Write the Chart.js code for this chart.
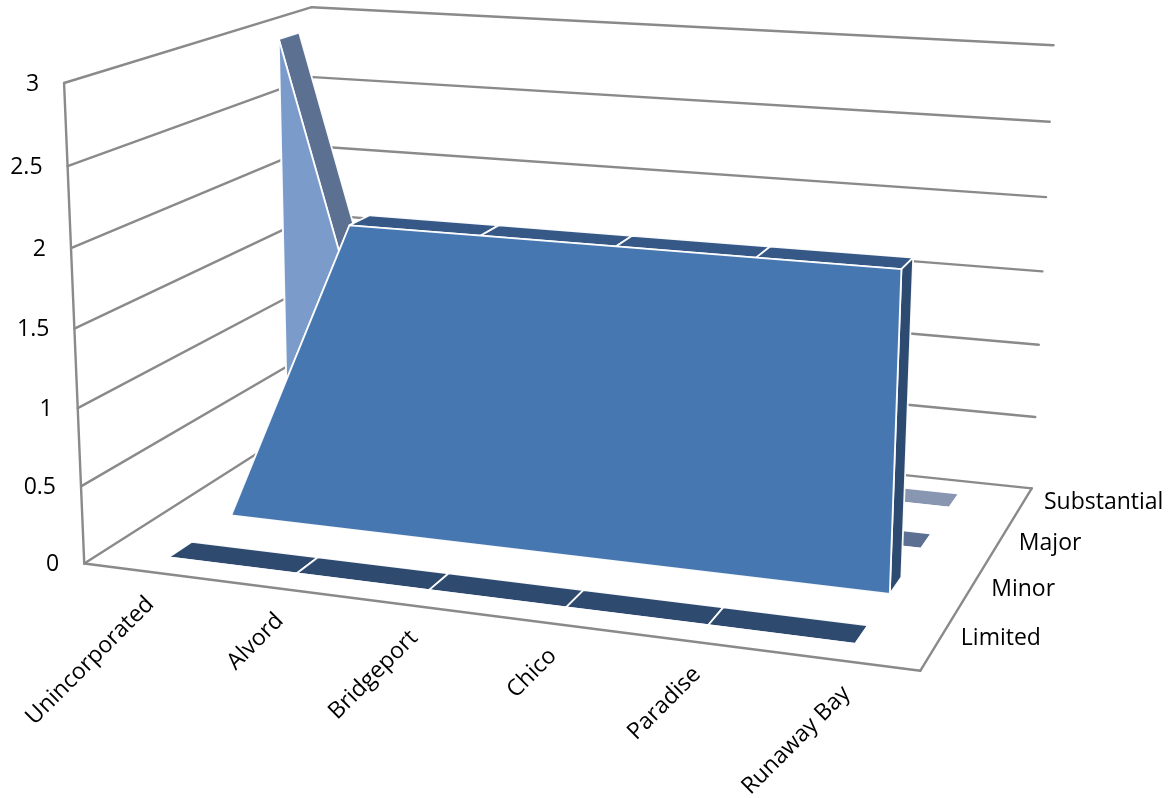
<!DOCTYPE html>
<html>
<head>
<meta charset="utf-8">
<script src="https://cdn.jsdelivr.net/npm/chart.js@4.4.1/dist/chart.umd.min.js"></script>
<style>
  html, body { margin: 0; padding: 0; background: #ffffff; }
  #wrap { width: 1172px; height: 798px; }
</style>
</head>
<body>
<div id="wrap"><canvas id="chart" width="1172" height="798"></canvas></div>
<script>
// ---- data ----
const categories = ['Unincorporated', 'Alvord', 'Bridgeport', 'Chico', 'Paradise', 'Runaway Bay'];
const seriesNames = ['Limited', 'Minor', 'Major', 'Substantial'];
const limitedValues = [0, 0, 0, 0, 0, 0];
const minorValues = [0, 2, 2, 2, 2, 2];
const majorValues = [3, 0, 0, 0, 0, 0];
const substantialValues = [0, 0, 0, 0, 0, 0];
const valueTicks = [0, 0.5, 1, 1.5, 2, 2.5, 3];

// ---- styles ----
const faceColors = [
  { front: '#3b6194', top: '#2e4a6f', side: '#27405f' },   // Limited
  { front: '#4777b0', top: '#355886', side: '#2d4a70' },   // Minor
  { front: '#7b9bcb', top: '#5c7092', side: '#4e6281' },   // Major
  { front: '#a8b9d8', top: '#8896b2', side: '#75839e' }    // Substantial
];
const GRID = '#8a8a8a';
const FONT = '23px "Open Sans", "Liberation Sans", sans-serif';
const DEPTH_SHARE = 0.36;   // share of each depth slot taken by a series

// Plot box (walls + floor) placement on the canvas: unit cube corner -> pixel
const BOX = [
  [[0, 0, 0], [85, 563]],
  [[1, 0, 0], [920, 672]],
  [[1, 0, 1], [1032, 487]],
  [[0, 0, 1], [318, 415]],
  [[0, 1, 0], [62, 83]],
  [[0, 1, 1], [313, 7]],
  [[1, 1, 1], [1053, 46]],
  [[0, 0.5, 0], [76, 328]],
  [[1, 0.5, 1], [1043, 271]]
];

// Perspective camera fitted to the box corners (direct linear transform)
function fitProjection(pairs) {
  const N = 11;
  const M = Array.from({ length: N }, () => new Array(N + 1).fill(0));
  const addRow = (row, rhs) => {
    for (let a = 0; a < N; a++) {
      for (let b = 0; b < N; b++) M[a][b] += row[a] * row[b];
      M[a][N] += row[a] * rhs;
    }
  };
  for (const [[X, Y, Z], [u0, v0]] of pairs) {
    const u = u0 / 1000, v = v0 / 1000;
    addRow([X, Y, Z, 1, 0, 0, 0, 0, -u * X, -u * Y, -u * Z], u);
    addRow([0, 0, 0, 0, X, Y, Z, 1, -v * X, -v * Y, -v * Z], v);
  }
  for (let c = 0; c < N; c++) {
    let piv = c;
    for (let r = c + 1; r < N; r++) if (Math.abs(M[r][c]) > Math.abs(M[piv][c])) piv = r;
    [M[c], M[piv]] = [M[piv], M[c]];
    for (let r = 0; r < N; r++) {
      if (r === c) continue;
      const f = M[r][c] / M[c][c];
      for (let k = c; k <= N; k++) M[r][k] -= f * M[c][k];
    }
  }
  const p = M.map((row, i) => row[N] / row[i]);
  return (X, Y, Z) => {
    const w = p[8] * X + p[9] * Y + p[10] * Z + 1;
    return {
      x: 1000 * (p[0] * X + p[1] * Y + p[2] * Z + p[3]) / w,
      y: 1000 * (p[4] * X + p[5] * Y + p[6] * Z + p[7]) / w
    };
  };
}
const project = fitProjection(BOX);

function poly(ctx, pts, fill, stroke) {
  ctx.beginPath();
  ctx.moveTo(pts[0].x, pts[0].y);
  for (let k = 1; k < pts.length; k++) ctx.lineTo(pts[k].x, pts[k].y);
  ctx.closePath();
  if (fill) { ctx.fillStyle = fill; ctx.fill(); }
  if (stroke) {
    ctx.lineJoin = 'round';
    ctx.strokeStyle = stroke;
    ctx.lineWidth = 1.8;
    ctx.stroke();
  }
}
function line(ctx, a, b) {
  ctx.beginPath();
  ctx.moveTo(a.x, a.y);
  ctx.lineTo(b.x, b.y);
  ctx.stroke();
}

// Draws the 3-D area scene using the chart's own x / y / z scales
const area3d = {
  id: 'area3d',
  beforeDatasetsDraw(chart) {
    const ctx = chart.ctx;
    const ca = chart.chartArea;
    const sx = chart.scales.x, sy = chart.scales.y, sz = chart.scales.z;
    const fx = i => (sx.getPixelForValue(i) - ca.left) / (ca.right - ca.left);
    const fy = v => (ca.bottom - sy.getPixelForValue(v)) / (ca.bottom - ca.top);
    const fz = s => (sz.getPixelForValue(s) - ca.left) / (ca.right - ca.left);
    const slot = fz(1) - fz(0);
    const half = slot * DEPTH_SHARE / 2;

    ctx.save();
    // walls and floor outline
    ctx.strokeStyle = GRID;
    ctx.lineWidth = 2.4;
    ctx.lineCap = 'round';
    sy.ticks.forEach(t => {
      const Y = fy(t.value);
      line(ctx, project(0, Y, 0), project(0, Y, 1));
      line(ctx, project(0, Y, 1), project(1, Y, 1));
    });
    line(ctx, project(0, 0, 0), project(0, 1, 0));
    line(ctx, project(0, 0, 0), project(1, 0, 0));
    line(ctx, project(1, 0, 0), project(1, 0, 1));

    // series, back to front
    const edge = 'rgba(255,255,255,0.95)';
    for (let s = chart.data.datasets.length - 1; s >= 0; s--) {
      const vals = chart.data.datasets[s].data;
      const col = faceColors[s];
      const zf = fz(s) - half, zb = fz(s) + half;
      const n = vals.length;
      const X = vals.map((_, i) => fx(i));
      const Y = vals.map(v => fy(v));
      // left end cap
      poly(ctx, [project(X[0], 0, zf), project(X[0], Y[0], zf), project(X[0], Y[0], zb), project(X[0], 0, zb)], col.side, edge);
      // top surface segments
      for (let i = 0; i < n - 1; i++) {
        poly(ctx, [
          project(X[i], Y[i], zf), project(X[i + 1], Y[i + 1], zf),
          project(X[i + 1], Y[i + 1], zb), project(X[i], Y[i], zb)
        ], col.top, edge);
      }
      // right end cap
      poly(ctx, [project(X[n - 1], 0, zf), project(X[n - 1], Y[n - 1], zf), project(X[n - 1], Y[n - 1], zb), project(X[n - 1], 0, zb)], col.side, edge);
      // front face
      const front = [project(X[0], 0, zf)];
      for (let i = 0; i < n; i++) front.push(project(X[i], Y[i], zf));
      front.push(project(X[n - 1], 0, zf));
      poly(ctx, front, col.front, edge);
    }

    // text
    ctx.fillStyle = '#000000';
    ctx.font = FONT;
    // value axis labels
    ctx.textAlign = 'right';
    ctx.textBaseline = 'middle';
    sy.ticks.forEach(t => {
      const p = project(0, fy(t.value), 0);
      ctx.fillText(String(t.value), p.x - 25, p.y + 1);
    });
    // category labels
    chart.data.labels.forEach((lab, i) => {
      const p = project(fx(i), 0, 0);
      ctx.save();
      ctx.translate(p.x + 3, p.y + 29);
      ctx.rotate(-Math.PI / 4);
      ctx.textAlign = 'right';
      ctx.textBaseline = 'middle';
      ctx.fillText(lab, 0, 0);
      ctx.restore();
    });
    // series (depth) labels
    ctx.textAlign = 'left';
    ctx.textBaseline = 'middle';
    sz.getLabels().forEach((lab, s) => {
      const p = project(1, 0, fz(s));
      ctx.fillText(lab, p.x + 24, p.y - 5);
    });
    ctx.restore();
    return false; // the scene above replaces the flat line drawing
  }
};

new Chart(document.getElementById('chart'), {
  type: 'line',
  data: {
    labels: categories,
    datasets: [
      { label: seriesNames[0], data: limitedValues },
      { label: seriesNames[1], data: minorValues },
      { label: seriesNames[2], data: majorValues },
      { label: seriesNames[3], data: substantialValues }
    ]
  },
  options: {
    responsive: false,
    animation: false,
    devicePixelRatio: 1,
    layout: { padding: 0 },
    plugins: { legend: { display: false }, tooltip: { enabled: false } },
    scales: {
      x: { type: 'category', offset: true, display: false },
      y: {
        type: 'linear', min: 0, max: 3, display: false,
        afterBuildTicks: s => { s.ticks = valueTicks.map(v => ({ value: v })); }
      },
      z: { type: 'category', axis: 'x', labels: seriesNames, offset: true, display: false }
    }
  },
  plugins: [area3d]
});
</script>
</body>
</html>
